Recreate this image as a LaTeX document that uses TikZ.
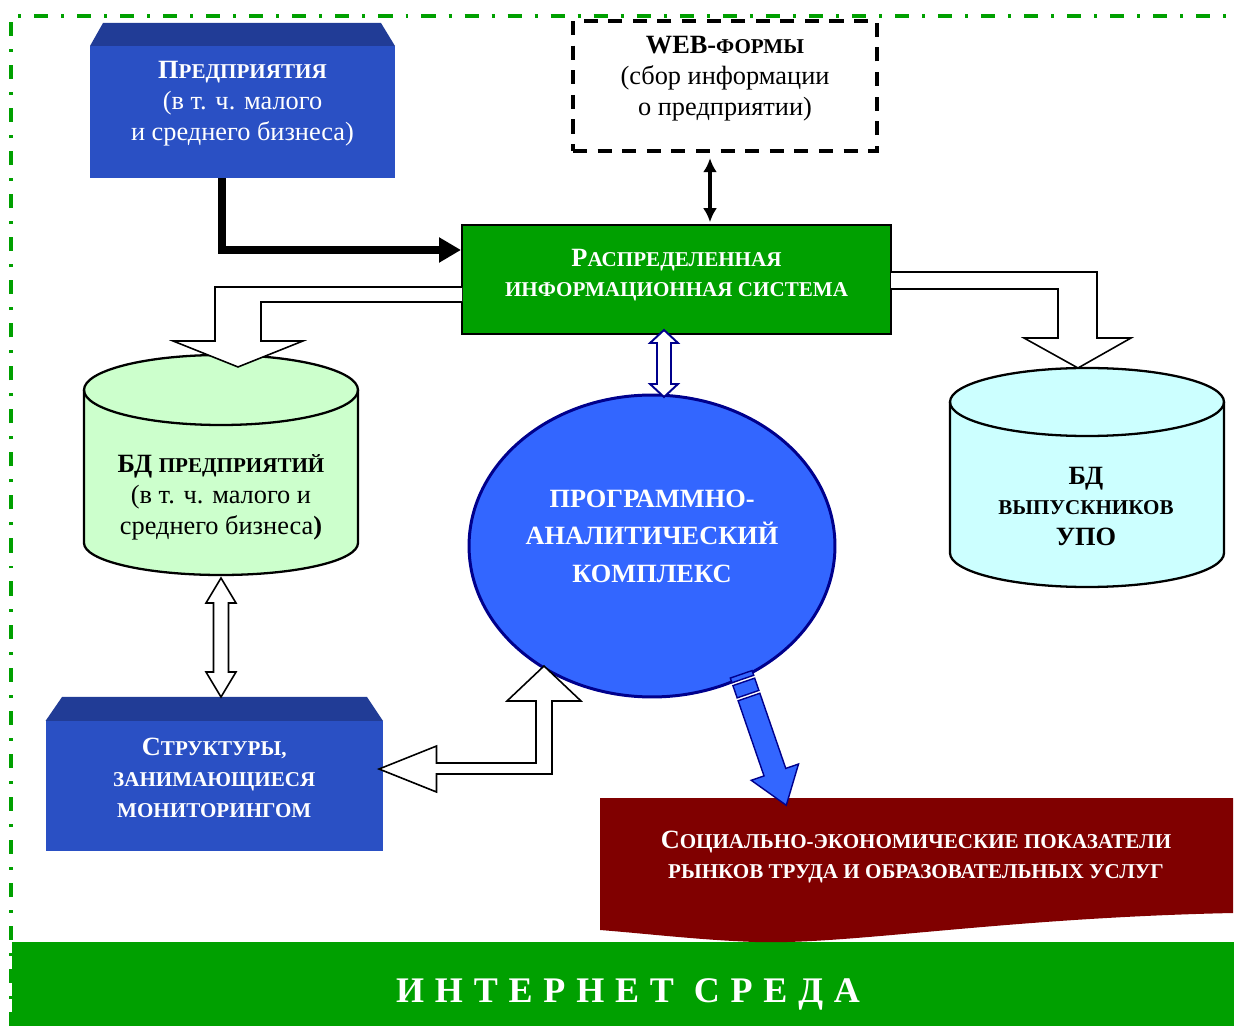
\documentclass[tikz,border=0pt]{standalone}
\usepackage{fontspec}
\setmainfont{Liberation Serif}
\usetikzlibrary{shapes.geometric, arrows.meta, calc}

\definecolor{netgreen}{RGB}{0,160,0}
\definecolor{boxblue}{RGB}{42,80,196}
\definecolor{roofblue}{RGB}{33,60,150}
\definecolor{ballblue}{RGB}{51,102,255}
\definecolor{navy}{RGB}{0,0,140}
\definecolor{dbgreen}{RGB}{204,255,204}
\definecolor{dbcyan}{RGB}{204,255,255}
\definecolor{maroon}{RGB}{128,0,0}

\newcommand{\capsm}[1]{{\fontsize{12}{\baselineskip}\selectfont\MakeUppercase{#1}}}
\def\px{0.02cm}

\tikzset{
  txt/.style={align=center, inner sep=0pt, font=\fontsize{15}{17.6}\selectfont},
  wtxt/.style={txt, text=white, font=\fontsize{15}{17.6}\selectfont\bfseries},
  bluebox/.style={rectangle, fill=boxblue, inner sep=0pt},
  hollow/.style={fill=white, draw=black, line width=0.9pt, line join=miter},
  dbline/.style={line width=1.3pt}
}

\begin{document}
\begin{tikzpicture}[x=0.02cm, y=-0.02cm]
\useasboundingbox (0,0) rectangle (1234,1026);

% internet band and frame
\fill[netgreen] (12,942) rectangle (1234,1026);
\node[wtxt, font=\fontsize{20.5}{24}\selectfont\bfseries\addfontfeature{LetterSpace=30}] (inet) at (628,994) {ИНТЕРНЕТ СРЕДА};
\draw[netgreen, line width=2pt, dash pattern=on 8pt off 7.4pt on 1.7pt off 7.4pt] (11,1026) -- (11,16) -- (1234,16);

% boxes
\fill[roofblue] (90,46) -- (103,23) -- (381,23) -- (395,46) -- cycle;
\node[bluebox, minimum width=6.1cm, minimum height=2.64cm] (firms) at (242.5,112) {};
\node[txt, text=white] (firmslbl) at ([yshift=4.5pt]firms.center)
  {\textbf{П\capsm{редприятия}}\\(в т. ч. малого\\и среднего бизнеса)};

\node[draw, dash pattern=on 8pt off 6pt, line width=2.2pt, minimum width=6.08cm, minimum height=2.6cm] (web) at (725,86) {};
\node[txt] (weblbl) at ([yshift=4pt]web.center)
  {\textbf{WEB-\capsm{формы}}\\(сбор информации\\о предприятии)};

\node[draw, fill=netgreen, line width=1.2pt, minimum width=8.58cm, minimum height=2.18cm] (ris) at (676.5,279.5) {};
\node[wtxt] (rislbl) at ([yshift=2.5pt]ris.center)
  {Р\capsm{аспределенная}\\\capsm{информационная система}};

\fill[roofblue] (45.5,721) -- (62,697) -- (367,697) -- (383,721) -- cycle;
\node[bluebox, minimum width=6.75cm, minimum height=2.6cm] (monitor) at (214.25,786) {};
\node[wtxt] (monitorlbl) at ([yshift=4.5pt]monitor.center)
  {С\capsm{труктуры,}\\\capsm{занимающиеся}\\\capsm{мониторингом}};

\fill[maroon] (600,798) -- (1233,798) -- (1233,913) .. controls (1000,918) and (850,945) .. (755,942)
  .. controls (700,940) and (650,934) .. (600,930) -- cycle;
\node[wtxt] (indic) at (916,857)
  {С\capsm{оциально-экономические показатели}\\\capsm{рынков труда и образовательных услуг}};

% databases
\filldraw[fill=dbgreen, dbline] (84,390) -- (84,543) arc[start angle=180, end angle=360, x radius=137*\px, y radius=32*\px]
  -- (358,390) arc[start angle=0, end angle=180, x radius=137*\px, y radius=35*\px] -- cycle;
\draw[dbline] (84,390) arc[start angle=180, end angle=360, x radius=137*\px, y radius=35*\px];
\node[txt] (dbfirms) at (221,497.5)
  {\textbf{БД \capsm{предприятий}}\\(в т. ч. малого и\\среднего бизнеса\textbf{)}};

\filldraw[fill=dbcyan, dbline] (950,402) -- (950,553) arc[start angle=180, end angle=360, x radius=137*\px, y radius=34*\px]
  -- (1224,402) arc[start angle=0, end angle=180, x radius=137*\px, y radius=34*\px] -- cycle;
\draw[dbline] (950,402) arc[start angle=180, end angle=360, x radius=137*\px, y radius=34*\px];
\node[txt, font=\fontsize{15}{17.3}\selectfont\bfseries] (dbgrads) at (1086,506.5)
  {БД\\\capsm{выпускников}\\УПО};

% analytic complex
\node[ellipse, fill=ballblue, draw=navy, line width=1.7pt, minimum width=7.32cm, minimum height=6.04cm] (pak) at (652,546) {};
\node[wtxt, font=\fontsize{15}{21.3}\selectfont\bfseries] (paklbl) at ([yshift=5.7pt]pak.center)
  {ПРОГРАММНО-\\АНАЛИТИЧЕСКИЙ\\КОМПЛЕКС};

% connectors
\draw[line width=4pt, line join=miter, -{Triangle[length=12.5pt, width=13.6pt]}] (firms.south -| 222,0) |- (ris.west |- 0,250);
\draw[line width=2pt, {Latex[length=8pt,width=8pt]}-{Latex[length=8pt,width=8pt]}, shorten <=3pt, shorten >=1pt]
  (web.south -| 710,0) -- (ris.north -| 710,0);

\filldraw[hollow] (462,287) -- (215,287) -- (215,341) -- (173,341) -- (238,367) -- (303,341) -- (261,341) -- (261,302) -- (462,302);
\filldraw[hollow] (891,272) -- (1097,272) -- (1097,338) -- (1131,338) -- (1078,368) -- (1024,338) -- (1058,338) -- (1058,289) -- (891,289);
\filldraw[hollow, draw=navy, line width=1.1pt] (664,330) -- (678,343) -- (671,343) -- (671,384) -- (678,384) -- (664,397)
  -- (650,384) -- (657,384) -- (657,343) -- (650,343) -- cycle;
\filldraw[hollow] (221,578) -- (236,603) -- (228.5,603) -- (228.5,672) -- (236,672) -- (221,697)
  -- (206,672) -- (213.5,672) -- (213.5,603) -- (206,603) -- cycle;
\filldraw[hollow] (379,769) -- (436.5,746) -- (436.5,763) -- (536,763) -- (536,701) -- (507,701) -- (544,666)
  -- (581,701) -- (552,701) -- (552,774) -- (436.5,774) -- (436.5,792) -- cycle;

\begin{scope}[shift={(749,697)}, rotate=-71]
  \filldraw[fill=ballblue, draw=navy, line width=0.8pt, line join=miter]
    (0,-11.5) -- (79.5,-11.5) -- (79.5,-25) -- (114.5,0) -- (79.5,25) -- (79.5,11.5) -- (0,11.5) -- cycle;
  \filldraw[fill=ballblue, draw=navy, line width=0.8pt] (-16,-11.5) rectangle (-3,11.5);
  \filldraw[fill=ballblue, draw=navy, line width=0.8pt] (-24,-11.5) rectangle (-19,11.5);
\end{scope}
\end{tikzpicture}
\end{document}
